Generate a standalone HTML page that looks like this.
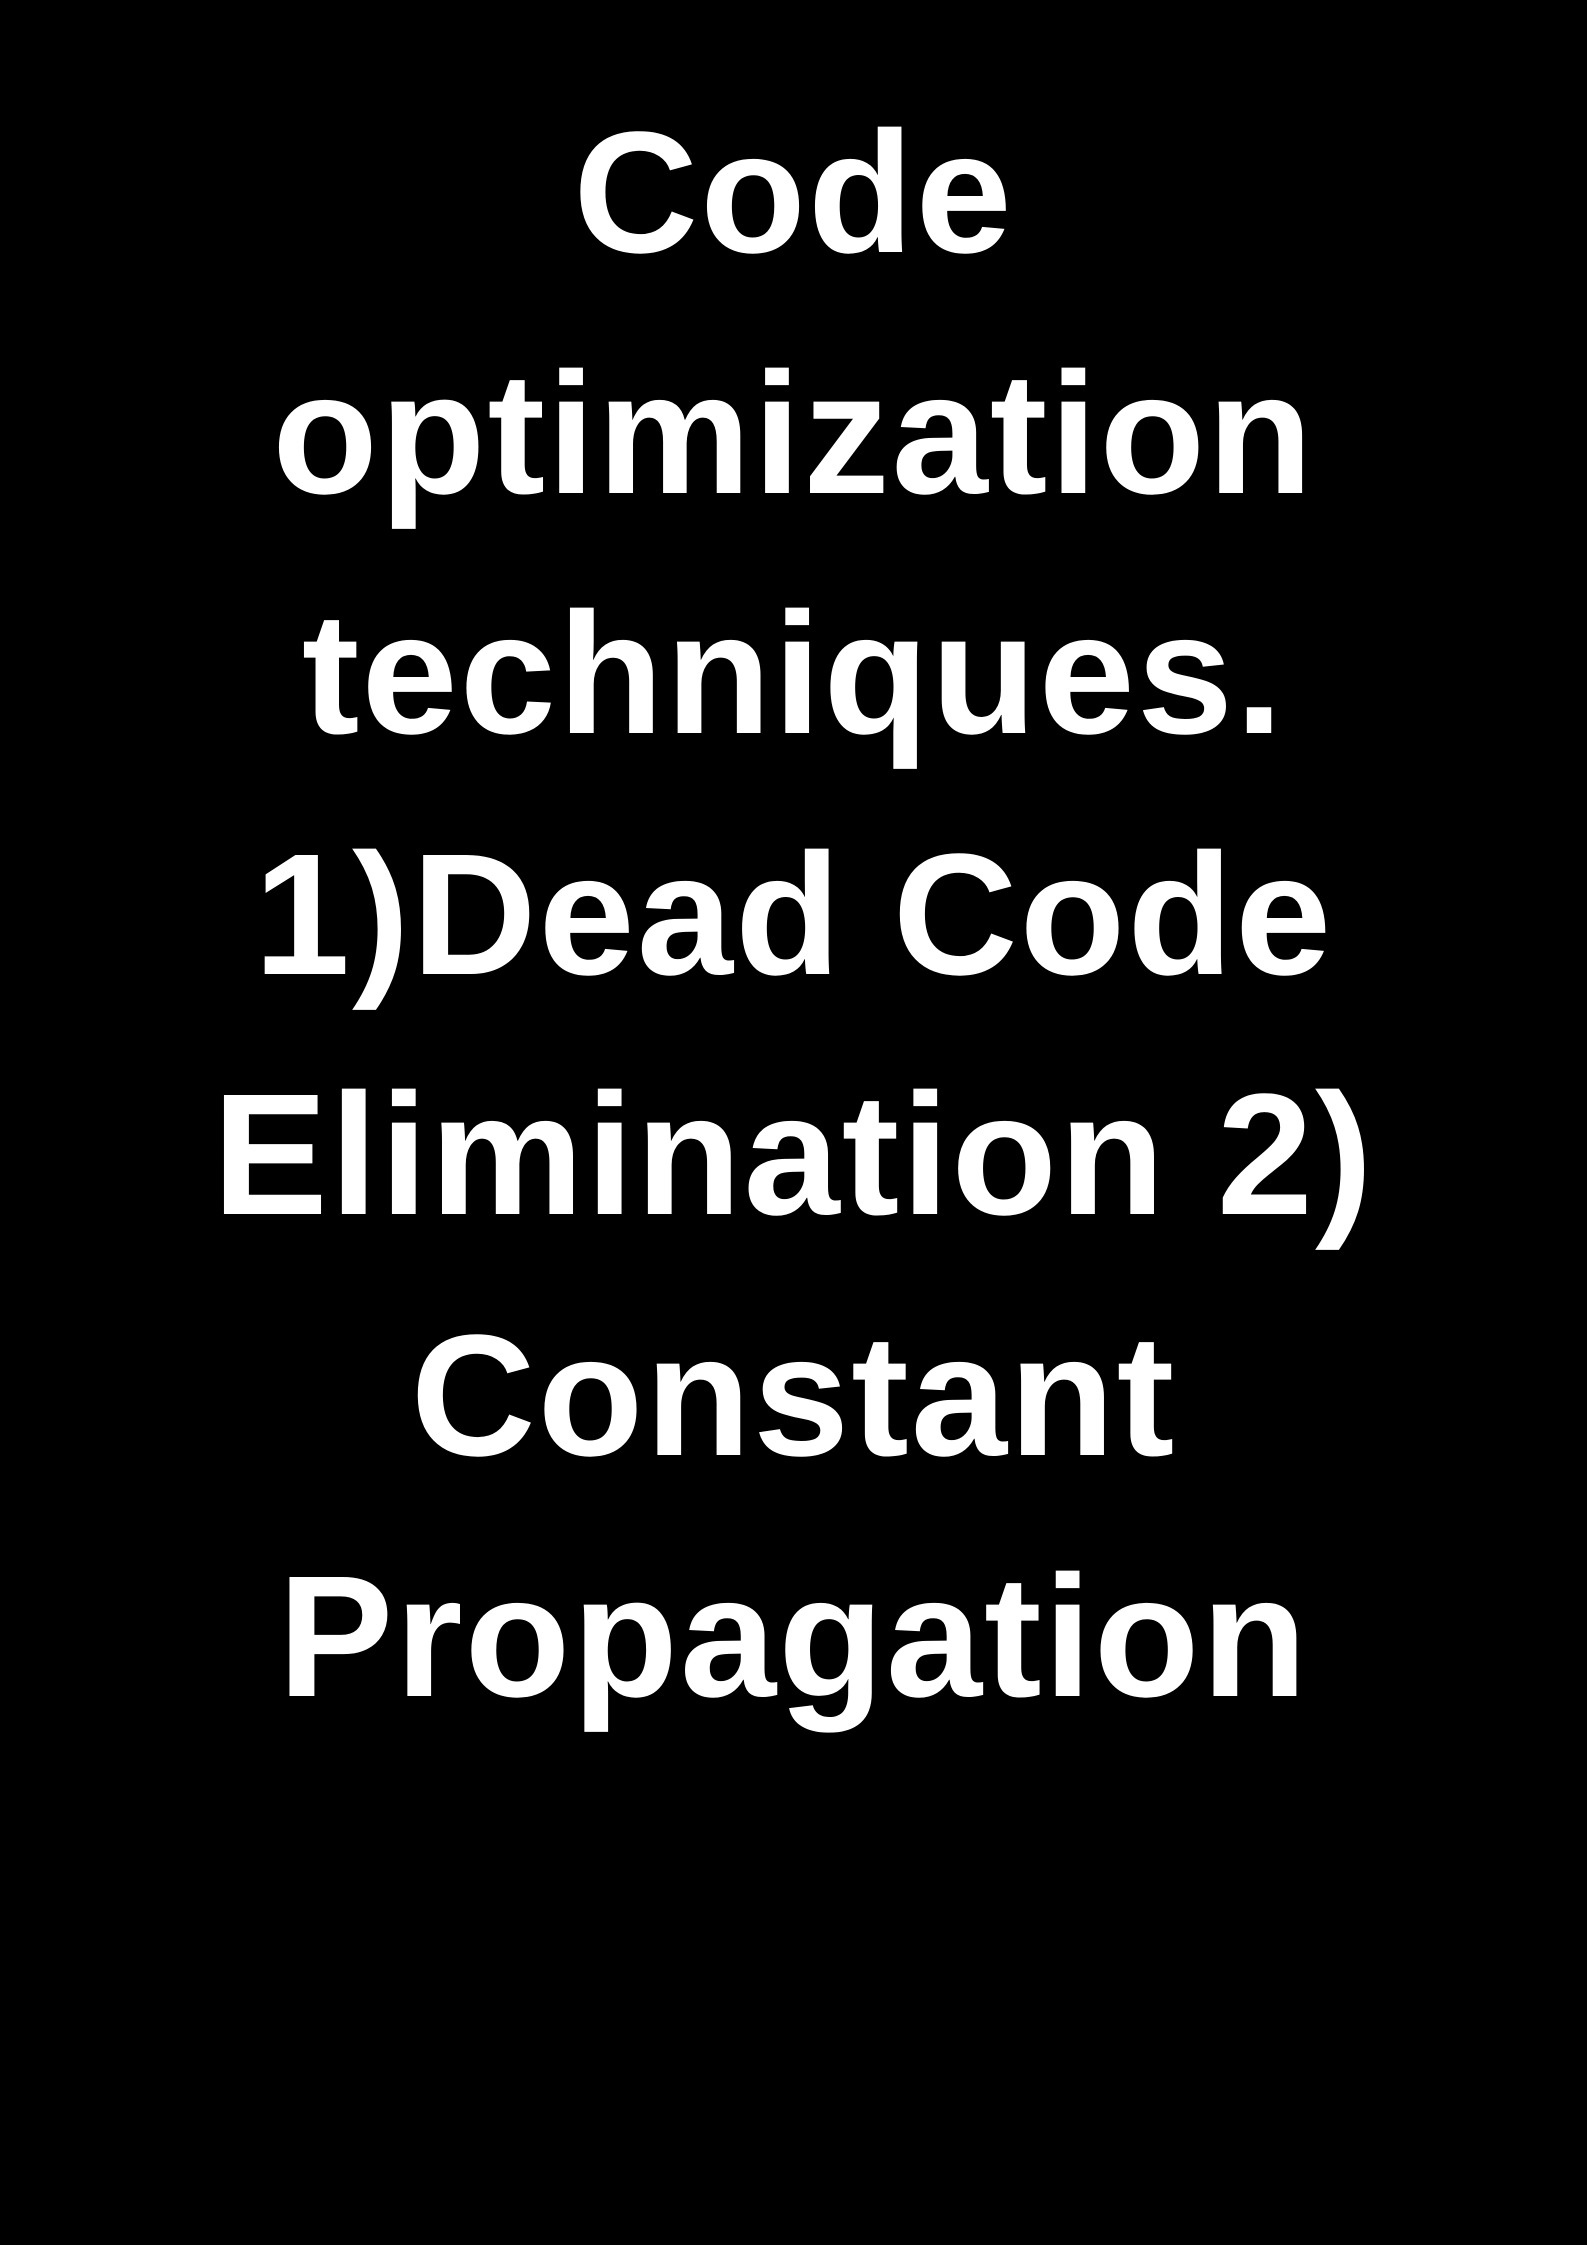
<!DOCTYPE html>
<html>
<head>
<meta charset="utf-8">
<style>
  html, body {
    margin: 0;
    padding: 0;
    background: #000;
  }
  body {
    width: 1587px;
    height: 2245px;
    overflow: hidden;
  }
  .t {
    padding-top: 72px;
    font-family: "Liberation Sans", "DejaVu Sans", sans-serif;
    font-weight: bold;
    font-size: 173px;
    line-height: 240.6px;
    letter-spacing: 2px;
    color: #fff;
    text-align: center;
    white-space: nowrap;
  }
</style>
</head>
<body>
<div class="t">Code<br>optimization<br>techniques.<br>1)Dead Code<br>Elimination 2)<br>Constant<br>Propagation</div>
</body>
</html>
